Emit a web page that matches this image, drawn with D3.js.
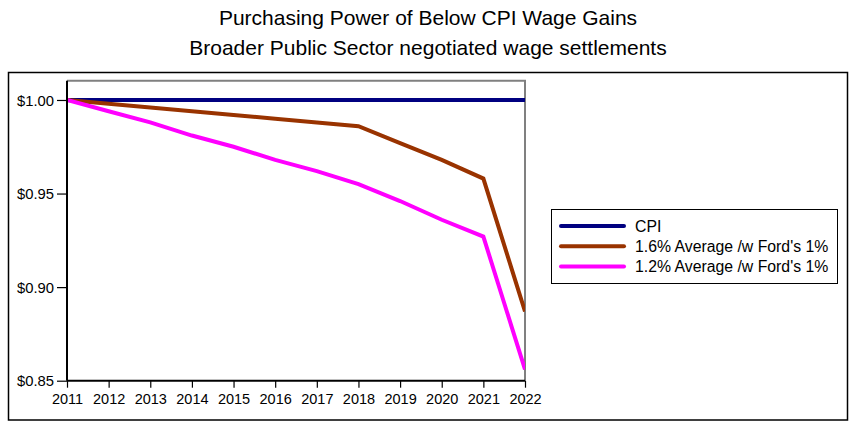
<!DOCTYPE html>
<html><head><meta charset="utf-8">
<script src="https://cdn.jsdelivr.net/npm/d3@7"></script>
<style>body{margin:0;background:#fff}svg{display:block;font-family:"Liberation Sans",Arial,sans-serif}</style>
</head><body><svg id="c" width="856" height="429"></svg>
<script>
const years = [2011,2012,2013,2014,2015,2016,2017,2018,2019,2020,2021,2022];
const cpi = [1,1,1,1,1,1,1,1,1,1,1,1];
const avg16 = [1.000,0.998,0.996,0.994,0.992,0.990,0.988,0.986,0.977,0.968,0.958,0.887];
const avg12 = [1.000,0.994,0.988,0.981,0.975,0.968,0.962,0.955,0.946,0.936,0.927,0.856];
const seriesNames = ["CPI","1.6% Average /w Ford's 1%","1.2% Average /w Ford's 1%"];
const seriesColors = ["#000080","#993300","#FF00FF"];
const yTicks = [0.85,0.90,0.95,1.00];
const titleLines = ["Purchasing Power of Below CPI Wage Gains","Broader Public Sector negotiated wage settlements"];

const svg = d3.select("#c");
const W=856,H=429;
const L=67,R=525,T=80.7,B=380.7;
const x = d3.scaleLinear().domain([2011,2022]).range([L,R]);
const y = d3.scaleLinear().domain([0.85,1.0103]).range([B,T]);

svg.append("rect").attr("x",8.5).attr("y",72.5).attr("width",839).attr("height",347.5)
  .attr("fill","none").attr("stroke","#000").attr("stroke-width",1.5);

svg.selectAll("text.title").data(titleLines).enter().append("text")
  .attr("x",W/2).attr("y",(d,i)=>25+i*30).attr("text-anchor","middle")
  .attr("font-size",21).attr("fill","#000").text(d=>d);

svg.append("path").attr("d",`M${L},${T}H${R}V${B}`).attr("fill","none").attr("stroke","#808080").attr("stroke-width",2);

const series=[cpi,avg16,avg12];
const line=d3.line().x((d,i)=>x(years[i])).y(d=>y(d));
svg.append("clipPath").attr("id","cp").append("rect").attr("x",L).attr("y",T).attr("width",R-L).attr("height",B-T);
svg.append("g").attr("clip-path","url(#cp)").selectAll("path").data(series).enter().append("path")
  .attr("d",d=>line(d)).attr("fill","none").attr("stroke",(d,i)=>seriesColors[i]).attr("stroke-width",4)
  .attr("stroke-linejoin","miter");

const ya = d3.axisLeft(y).tickValues(yTicks).tickSize(10).tickPadding(3).tickFormat(d=>"$"+d.toFixed(2));
const gy = svg.append("g").attr("transform",`translate(${L},0)`).call(ya);
gy.select(".domain").attr("stroke","#000").attr("stroke-width",2).attr("d",`M0,${T}V${B}`);
gy.selectAll(".tick line").attr("stroke","#000").attr("stroke-width",1.2);
gy.selectAll(".tick text").attr("font-size",14.8).attr("fill","#000").attr("dy","0.35em");

const xa = d3.axisBottom(x).tickValues(years).tickSize(7).tickPadding(6).tickFormat(d3.format("d"));
const gx = svg.append("g").attr("transform",`translate(0,${B})`).call(xa);
gx.select(".domain").attr("stroke","#000").attr("stroke-width",2).attr("d",`M${L},0H${R}`);
gx.selectAll(".tick line").attr("stroke","#000").attr("stroke-width",1.2);
gx.selectAll(".tick text").attr("font-size",14.5).attr("fill","#000");
gy.attr("font-family",null); gx.attr("font-family",null);

const lg = svg.append("g");
lg.append("rect").attr("x",551.5).attr("y",209.5).attr("width",286).attr("height",74).attr("fill","#fff").attr("stroke","#000").attr("stroke-width",1);
seriesNames.forEach((n,i)=>{
  const yy=226+i*20.3;
  lg.append("line").attr("x1",561).attr("x2",624).attr("y1",yy).attr("y2",yy).attr("stroke",seriesColors[i]).attr("stroke-width",4).attr("stroke-linecap","round");
  lg.append("text").attr("x",635).attr("y",yy).attr("dy","0.35em").attr("font-size",15.8).attr("fill","#000").text(n);
});
</script></body></html>
